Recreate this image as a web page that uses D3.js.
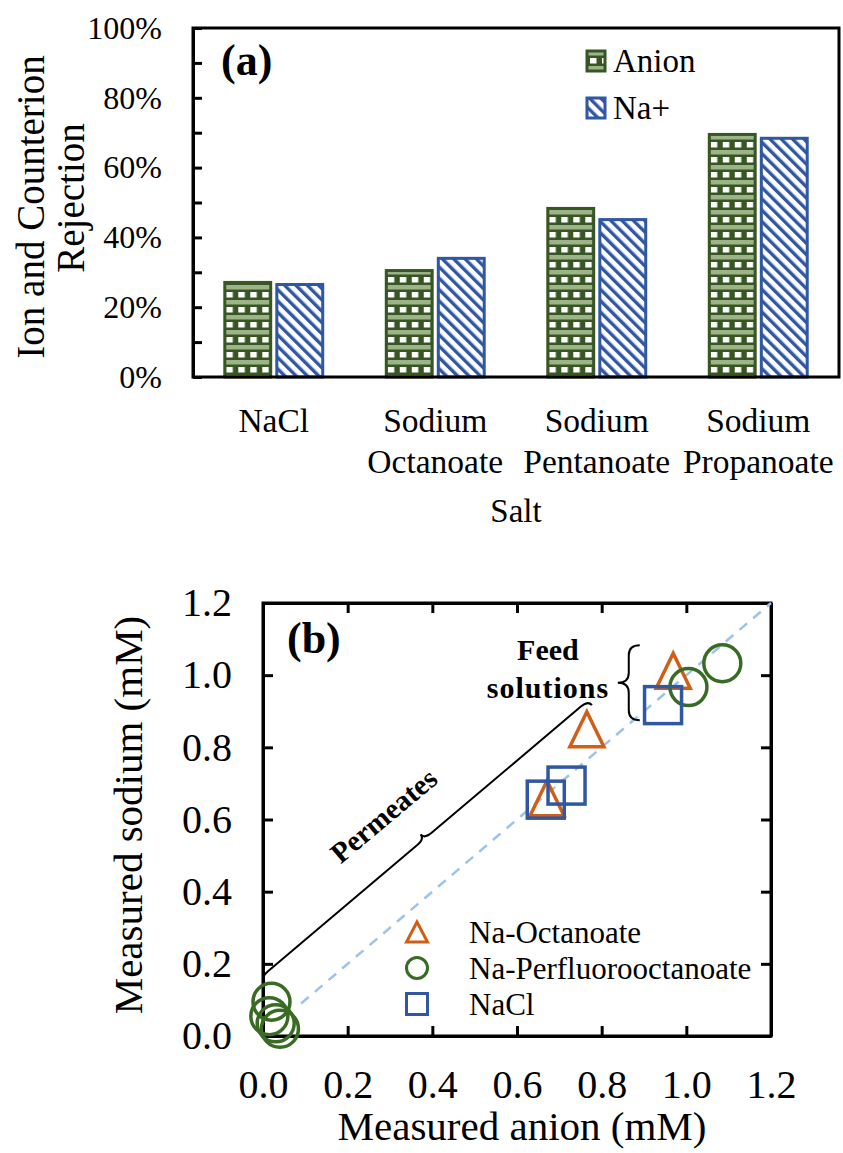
<!DOCTYPE html>
<html>
<head>
<meta charset="utf-8">
<script src="https://cdn.jsdelivr.net/npm/d3@7"></script>
<style>
body{margin:0;background:#fff;}
svg, svg text{font-family:'Liberation Serif','Times New Roman',serif !important;fill:#000;}
.axis path,.axis line{stroke:#000;stroke-width:3;}
</style>
</head>
<body>
<div id="canvas"></div>
<script>
//panel (a) data: rejection per salt
var saltLines = [['NaCl'],['Sodium','Octanoate'],['Sodium','Pentanoate'],['Sodium','Propanoate']];
var salts = saltLines.map(function(l){return l.join(' ');});
var series = ['Anion','Na+'];
var anionRej = [0.271,0.305,0.483,0.695];
var sodiumRej = [0.265,0.340,0.451,0.684];
var rejTicks = [0,0.1,0.2,0.3,0.4,0.5,0.6,0.7,0.8,0.9,1.0];

//panel (b) data: measured sodium vs anion (mM)
var octX = [0.969,0.765,0.671], octY = [1.012,0.850,0.659];
var pfoaX = [1.005,1.085,0.020,0.015,0.030,0.040], pfoaY = [0.967,1.033,0.095,0.055,0.035,0.020];
var naclX = [0.945,0.668,0.717], naclY = [0.917,0.655,0.694];
var mMTicks = [0,0.2,0.4,0.6,0.8,1.0,1.2];
var parity = [0.09,1.2];
var legendB = ['Na-Octanoate','Na-Perfluorooctanoate','NaCl'];

var green = '#375623', blue = '#2f57a3', orange = '#cf5f17', circ = '#3a6b24', dash = '#9cc3e8';
var serif = "'Liberation Serif','Times New Roman',serif";

var W = 843, H = 1153;
var svg = d3.select('#canvas').append('svg')
    .attr('width',W).attr('height',H)
    .attr('font-family',serif);

//patterns
var defs = svg.append('defs');
var pA = defs.append('pattern').attr('id','checker')
    .attr('patternUnits','userSpaceOnUse').attr('width',12).attr('height',15);
pA.append('rect').attr('width',12).attr('height',15).attr('fill',green);
pA.append('rect').attr('y',0).attr('width',12).attr('height',4.5).attr('fill','#9db489');
pA.append('rect').attr('x',3).attr('y',7).attr('width',6.5).attr('height',5.5).attr('fill','#fff');
var pB = defs.append('pattern').attr('id','diag')
    .attr('patternUnits','userSpaceOnUse').attr('width',8).attr('height',8)
    .attr('patternTransform','rotate(-45)');
pB.append('rect').attr('width',8).attr('height',8).attr('fill','#fff');
pB.append('rect').attr('width',3.4).attr('height',8).attr('fill',blue);

var fills = {'Anion':'url(#checker)','Na+':'url(#diag)'},
    strokes = {'Anion':green,'Na+':blue};

function txt(sel,size,weight){
    return sel.attr('font-family',serif).style('font-size',size+'px')
        .style('font-weight',weight||'normal');
}

// ================= panel (a) =================
var a = {l:193,r:839,t:28,b:377};
var xA = d3.scaleBand().domain(salts).range([a.l,a.r])
    .paddingInner(0.375).paddingOuter(0.1875);
var xSub = d3.scaleBand().domain(series).range([0,xA.bandwidth()]).paddingInner(0.06);
var yA = d3.scaleLinear().domain([0,1]).range([a.b,a.t]);

var rows = salts.map(function(s,i){
    return {salt:s, vals:[{k:'Anion',v:anionRej[i]},{k:'Na+',v:sodiumRej[i]}]};
});

var gA = svg.append('g');
gA.selectAll('g.grp')
    .data(rows)
    .enter().append('g')
    .attr('class','grp')
    .attr('transform',function(d){return 'translate('+xA(d.salt)+',0)';})
    .selectAll('rect')
    .data(function(d){return d.vals;})
    .enter().append('rect')
    .attr('x',function(d){return xSub(d.k)+1.5;})
    .attr('width',xSub.bandwidth()-3)
    .attr('y',function(d){return yA(d.v);})
    .attr('height',function(d){return yA(0)-yA(d.v);})
    .attr('fill',function(d){return fills[d.k];})
    .attr('stroke',function(d){return strokes[d.k];})
    .attr('stroke-width',3);

var axA = d3.axisLeft(yA).tickValues(rejTicks)
    .tickSizeInner(-9).tickSizeOuter(0).tickPadding(31)
    .tickFormat(function(d){return Math.round(d*10)%2===0 ? d3.format('.0%')(d) : '';});
var axNodeA = gA.append('g').attr('class','axis')
    .attr('transform','translate('+a.l+',0)')
    .call(axA);
axNodeA.attr('font-family',serif);
txt(axNodeA.selectAll('text'),32);

gA.append('rect')
    .attr('x',a.l).attr('y',a.t).attr('width',a.r-a.l).attr('height',a.b-a.t)
    .attr('fill','none').attr('stroke','#000').attr('stroke-width',3);

//category labels
txt(gA.selectAll('text.cat')
    .data(saltLines)
    .enter().append('text')
    .attr('class','cat')
    .attr('text-anchor','middle'),33.5)
    .each(function(lines,i){
        var t = d3.select(this), cx = xA(salts[i])+xA.bandwidth()/2;
        lines.forEach(function(l,j){
            t.append('tspan').attr('x',cx).attr('y',432+j*41).text(l);
        });
    });

txt(gA.append('text').attr('x',(a.l+a.r)/2).attr('y',522)
    .attr('text-anchor','middle'),33).text('Salt');

txt(gA.append('text')
    .attr('transform','translate(44,207) rotate(-90)')
    .attr('text-anchor','middle'),39).text('Ion and Counterion');
txt(gA.append('text')
    .attr('transform','translate(84,198) rotate(-90)')
    .attr('text-anchor','middle'),39).text('Rejection');

txt(gA.append('text').attr('x',221).attr('y',75),44,'bold').text('(a)');

//legend (a)
var legA = gA.selectAll('g.leg')
    .data(series)
    .enter().append('g')
    .attr('class','leg')
    .attr('transform',function(d,i){return 'translate(587,'+(51+i*47)+')';});
legA.append('rect').attr('width',18).attr('height',20)
    .attr('fill',function(d){return fills[d];})
    .attr('stroke',function(d){return strokes[d];}).attr('stroke-width',3);
txt(legA.append('text').attr('x',26).attr('y',21),33).text(function(d){return d;});

// ================= panel (b) =================
var b = {l:263,r:771,t:603,b:1036};
var xB = d3.scaleLinear().domain([0,1.2]).range([b.l,b.r]);
var yB = d3.scaleLinear().domain([0,1.2]).range([b.b,b.t]);
var gB = svg.append('g');
var f1 = d3.format('.1f');

var axBot = gB.append('g').attr('class','axis').attr('transform','translate(0,'+b.b+')')
    .call(d3.axisBottom(xB).tickValues(mMTicks).tickSizeInner(-10).tickSizeOuter(0)
        .tickPadding(34).tickFormat(f1));
gB.append('g').attr('class','axis').attr('transform','translate(0,'+b.t+')')
    .call(d3.axisTop(xB).tickValues(mMTicks).tickSizeInner(-10).tickSizeOuter(0).tickFormat(''));
var axLeft = gB.append('g').attr('class','axis').attr('transform','translate('+b.l+',0)')
    .call(d3.axisLeft(yB).tickValues(mMTicks).tickSizeInner(-10).tickSizeOuter(0)
        .tickPadding(31).tickFormat(f1));
gB.append('g').attr('class','axis').attr('transform','translate('+b.r+',0)')
    .call(d3.axisRight(yB).tickValues(mMTicks).tickSizeInner(-10).tickSizeOuter(0).tickFormat(''));
axBot.attr('font-family',serif); axLeft.attr('font-family',serif);
txt(axBot.selectAll('text'),40);
txt(axLeft.selectAll('text'),40);
gB.append('rect')
    .attr('x',b.l).attr('y',b.t).attr('width',b.r-b.l).attr('height',b.b-b.t)
    .attr('fill','none').attr('stroke','#000').attr('stroke-width',3);

txt(gB.append('text').attr('x',(b.l+b.r)/2+5).attr('y',1140)
    .attr('text-anchor','middle'),41).text('Measured anion (mM)');
txt(gB.append('text').attr('transform','translate(142,815) rotate(-90)')
    .attr('text-anchor','middle'),41).text('Measured sodium (mM)');

//parity line
gB.append('line')
    .attr('x1',xB(parity[0])).attr('y1',yB(parity[0]))
    .attr('x2',xB(parity[1])).attr('y2',yB(parity[1]))
    .attr('stroke',dash).attr('stroke-width',2.5).attr('stroke-dasharray','10,8');

//curly brace from p1 to p2: straight arms, rounded hooks, cusp at the middle
function brace(p1,p2,w,r){
    var L = Math.sqrt((p2[0]-p1[0])*(p2[0]-p1[0])+(p2[1]-p1[1])*(p2[1]-p1[1])),
        ang = Math.atan2(p2[1]-p1[1],p2[0]-p1[0])*180/Math.PI,
        m = L/2;
    var d = 'M0,0Q0,'+w+' '+r+','+w+
        'L'+(m-r)+','+w+'Q'+m+','+w+' '+m+','+(2*w)+
        'Q'+m+','+w+' '+(m+r)+','+w+
        'L'+(L-r)+','+w+'Q'+L+','+w+' '+L+',0';
    return {d:d, t:'translate('+p1[0]+','+p1[1]+') rotate('+ang+')'};
}
var permBrace = [[0.004,0.150],[0.777,0.917]];
var feedBrace = [[0.89,1.083],[0.89,0.875]];
var bp = brace([xB(permBrace[0][0]),yB(permBrace[0][1])],[xB(permBrace[1][0]),yB(permBrace[1][1])],-6,9);
gB.append('path').attr('d',bp.d).attr('transform',bp.t)
    .attr('fill','none').attr('stroke','#000').attr('stroke-width',2);
var bf = brace([xB(feedBrace[0][0]),yB(feedBrace[0][1])],[xB(feedBrace[1][0]),yB(feedBrace[1][1])],11,10);
gB.append('path').attr('d',bf.d).attr('transform',bf.t)
    .attr('fill','none').attr('stroke','#000').attr('stroke-width',2);

txt(gB.append('text').attr('x',xB(0.673)).attr('y',yB(1.042))
    .attr('text-anchor','middle'),30,'bold').text('Feed');
txt(gB.append('text').attr('x',xB(0.673)).attr('y',yB(0.936))
    .attr('text-anchor','middle'),30,'bold')
    .style('letter-spacing','1px').text('solutions');
txt(gB.append('text')
    .attr('transform','translate('+xB(0.300)+','+yB(0.590)+') rotate(-40)')
    .attr('text-anchor','middle'),29,'bold').text('Permeates');
txt(gB.append('text').attr('x',287).attr('y',653),44,'bold').text('(b)');

//markers
function tri(w,h){return 'M0,'+(-h)+'L'+w+','+h+'L'+(-w)+','+h+'Z';}
gB.selectAll('path.oct')
    .data(octX)
    .enter().append('path').attr('class','oct')
    .attr('d',tri(17,17.5))
    .attr('transform',function(d,i){return 'translate('+xB(d)+','+yB(octY[i])+')';})
    .attr('fill','none').attr('stroke',orange).attr('stroke-width',3.5).attr('stroke-linejoin','miter');
gB.selectAll('circle.pfoa')
    .data(pfoaX)
    .enter().append('circle').attr('class','pfoa')
    .attr('cx',function(d){return xB(d);})
    .attr('cy',function(d,i){return yB(pfoaY[i]);})
    .attr('r',18.5)
    .attr('fill','none').attr('stroke',circ).attr('stroke-width',3.5);
gB.selectAll('rect.nacl')
    .data(naclX)
    .enter().append('rect').attr('class','nacl')
    .attr('x',function(d){return xB(d)-18.5;})
    .attr('y',function(d,i){return yB(naclY[i])-18.5;})
    .attr('width',37).attr('height',37)
    .attr('fill','none').attr('stroke',blue).attr('stroke-width',3.5);

//legend (b)
var legB = gB.selectAll('g.legb')
    .data(legendB)
    .enter().append('g').attr('class','legb')
    .attr('transform',function(d,i){return 'translate(417,'+(932+i*36)+')';});
legB.each(function(d,i){
    var g = d3.select(this);
    if(i===0) g.append('path').attr('d',tri(10.5,10)).attr('fill','none').attr('stroke',orange).attr('stroke-width',3);
    if(i===1) g.append('circle').attr('r',10.5).attr('fill','none').attr('stroke',circ).attr('stroke-width',3);
    if(i===2) g.append('rect').attr('x',-10.5).attr('y',-10.5).attr('width',21).attr('height',21).attr('fill','none').attr('stroke',blue).attr('stroke-width',3);
});
txt(legB.append('text').attr('x',52).attr('y',11),31).text(function(d){return d;});
</script>
</body>
</html>
